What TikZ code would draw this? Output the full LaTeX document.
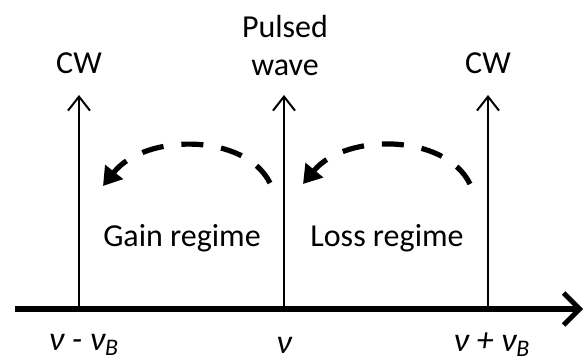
\documentclass[tikz,border=0pt]{standalone}
\usepackage{fontspec}
\setmainfont{Carlito}
\usetikzlibrary{arrows.meta}
\begin{document}
\begin{tikzpicture}[x=0.5pt, y=-0.5pt,
    every node/.style={font=\fontsize{16}{19}\selectfont},
    line/.style={line width=1pt, -{Straight Barb[length=7pt, width=11pt, line width=1pt]}},
    axis/.style={line width=2.6pt, -{Straight Barb[length=8pt, width=16pt, line width=2.4pt]}},
    hop/.style={line width=2.6pt, dash pattern=on 11pt off 9pt, -{Triangle[length=9pt, width=11pt]}},
    freq/.style={font=\fontsize{17}{19}\selectfont\itshape}]
    \useasboundingbox (0,0) rectangle (583,362);

    % Frequency axis
    \coordinate (Start) at (15,309);
    \coordinate (End) at (583,309);
    \draw[axis] (Start) -- (End);

    % Foot points and tips of the three lines
    \foreach \n/\x in {1/79, 2/284, 3/488} {
        \coordinate (F\n) at (\x,309);
        \coordinate (T\n) at (\x,95);
        \draw[line] (F\n) -- (T\n);
    }

    % Labels above the lines
    \node (CWa) at (79,63) {CW};
    \node[align=center, inner sep=0pt] (PW) at (285,46) {Pulsed\\wave};
    \node (CWb) at (488,63) {CW};

    % Regimes
    \node (G) at (182,238) {Gain regime};
    \node (L) at (387,238) {Loss regime};

    % Frequencies
    \node[freq] (Na) at (84,345) {ν - ν\textsubscript{B}};
    \node[freq] (Nb) at (284,345) {ν};
    \node[freq] (Nc) at (492,345) {ν + ν\textsubscript{B}};

    % Energy transfer
    \coordinate (Aa) at (270,183);
    \coordinate (Ab) at (103,186);
    \coordinate (Ba) at (470,184);
    \coordinate (Bb) at (303,184);
    \draw[hop] (Aa) .. controls (245,133) and (145,133) .. (Ab);
    \draw[hop] (Ba) .. controls (445,133) and (345,133) .. (Bb);
\end{tikzpicture}
\end{document}
